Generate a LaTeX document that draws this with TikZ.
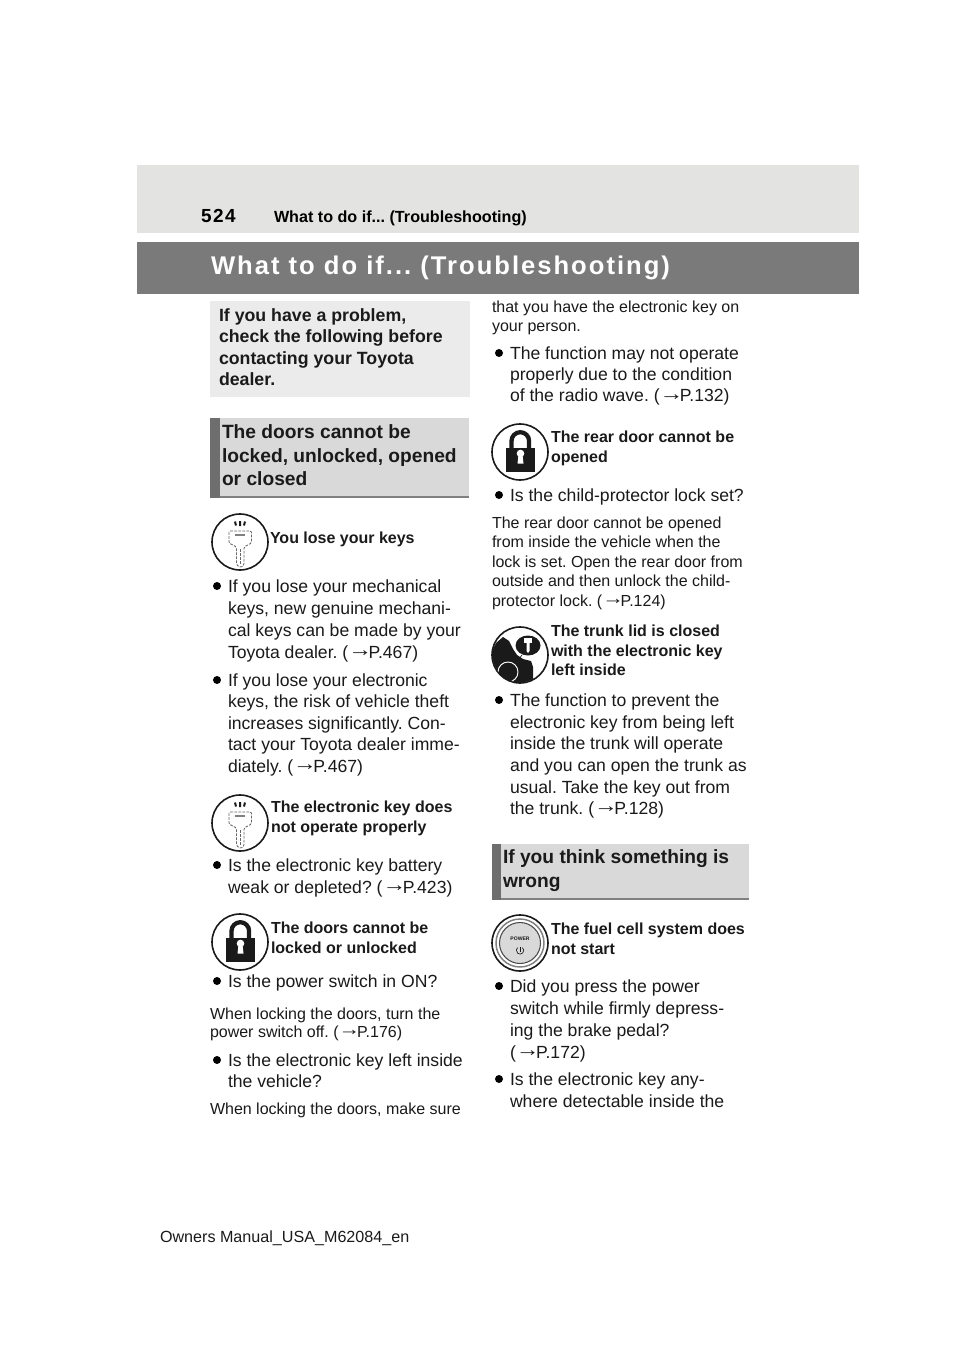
\documentclass[tikz,border=0pt]{standalone}
\usepackage{fontspec}
\setmainfont{Liberation Sans}
\definecolor{hdr}{HTML}{E3E3E1}
\definecolor{band}{HTML}{7A7A7A}
\definecolor{boxa}{HTML}{EBEBEB}
\definecolor{boxb}{HTML}{D9D9D9}
\definecolor{barc}{HTML}{6E6E6E}
\definecolor{ink}{HTML}{1A1A1A}
\newcommand\fs[1]{\fontsize{#1}{#1}\selectfont\frenchspacing}
\newcommand\ar{\raisebox{0.1em}{\scalebox{1.35}[1.15]{→}}\kern-0.2em}
\tikzset{
 x=0.75pt,y=-0.75pt,
 tx/.style={inner sep=0pt,outer sep=0pt,anchor=base west,text=ink},
 bodytx/.style={tx,font=\fs{13.2pt}},
 smalltx/.style={tx,font=\fs{12pt}},
 captx/.style={tx,font=\fs{12pt}\bfseries},
 leadtx/.style={tx,font=\fs{13.3pt}\bfseries},
 headtx/.style={tx,font=\fs{14.4pt}\bfseries},
 ringnode/.style={circle,draw=ink,line width=1.2pt,minimum size=42pt,inner sep=0pt,fill=white},
 bul/.style={circle,fill=black,minimum size=6pt,inner sep=0pt},
 keyline/.style={draw=gray!80!black,line width=0.65pt,dash pattern=on 2pt off 1pt},
}
\newcount\tn
\newcommand\tl[4]{\global\advance\tn by 1 \node[#1] (t\the\tn) at (#2,#3) {#4};}
\newcommand\keyicon[3]{%
 \node[ringnode] (#1) at (#2,#3) {};
 \begin{scope}[shift={(#2,#3)}]
 \draw[keyline,rounded corners=1pt] (-11,-11) -- (11.5,-11) -- (11.5,1) -- (4,5) -- (4,23) -- (1,25.5) -- (-3.5,23) -- (-3.5,5) -- (-11,1) -- cycle;
 \draw[keyline] (0,7) -- (0,22);
 \draw[gray,line width=1.1pt] (-5,-7) -- (5,-7);
 \draw[ink,line width=1.5pt] (-5,-20.5) -- (-4,-16.5) (0,-21) -- (0,-16) (5,-20.5) -- (4,-16.5);
 \end{scope}}
\newcommand\lockicon[3]{%
 \node[ringnode] (#1) at (#2,#3) {};
 \begin{scope}[shift={(#2,#3)}]
 \draw[ink,line width=3.2pt] (-8.5,-3) -- (-8.5,-11) arc[start angle=180,end angle=360,radius=8.8] -- (9.1,-3);
 \fill[ink] (-14,-4) rectangle (15,20);
 \fill[white] (0.5,1.5) circle[radius=3.8];
 \fill[white] (-1.5,3) -- (2.5,3) -- (3.5,11.5) -- (-2.5,11.5) -- cycle;
 \end{scope}}
\begin{document}
\begin{tikzpicture}
\useasboundingbox (0,0) rectangle (960,1358);
\fill[white] (0,0) rectangle (960,1358);
% header
\fill[hdr] (137,165) rectangle (859,233);
\fill[band] (137,242) rectangle (859,294);
\tl{tx,font=\fs{14.2pt}\bfseries,text=black}{201}{223}{\addfontfeature{LetterSpace=8}524}
\tl{tx,font=\fs{12.1pt}\bfseries,text=black}{274}{223}{What to do if... (Troubleshooting)}
\tl{tx,font=\fs{19.2pt}\bfseries,text=white}{211}{275}{\addfontfeature{LetterSpace=7.8}What to do if... (Troubleshooting)}
% boxes
\fill[boxa] (210,301) rectangle (470,397);
\fill[boxb] (210,418) rectangle (469,498);
\fill[barc] (210,418) rectangle (220,498);
\draw[gray,line width=1.1pt] (220,497) -- (469,497);
\fill[boxb] (492,844) rectangle (749,900);
\fill[barc] (492,844) rectangle (501,900);
\draw[gray,line width=1.1pt] (501,899) -- (749,899);
\tl{leadtx}{219}{322}{If you have a problem,}
\tl{leadtx}{219}{343}{check the following before}
\tl{leadtx}{219}{364}{contacting your Toyota}
\tl{leadtx}{219}{386}{dealer.}
\tl{headtx}{222}{438}{The doors cannot be}
\tl{headtx}{222}{462}{locked, unlocked, opened}
\tl{headtx}{222}{485}{or closed}
% left col
\keyicon{i1}{240}{542}
\tl{captx}{270}{543}{You lose your keys}
\node[bul] (b1) at (217,586) {};
\tl{bodytx}{228}{592}{If you lose your mechanical}
\tl{bodytx}{228}{614}{keys, new genuine mechani-}
\tl{bodytx}{228}{636}{cal keys can be made by your}
\tl{bodytx}{228}{658}{Toyota dealer. (\ar P.467)}
\node[bul] (b2) at (217,680) {};
\tl{bodytx}{228}{686}{If you lose your electronic}
\tl{bodytx}{228}{707}{keys, the risk of vehicle theft}
\tl{bodytx}{228}{729}{increases significantly. Con-}
\tl{bodytx}{228}{750}{tact your Toyota dealer imme-}
\tl{bodytx}{228}{772}{diately. (\ar P.467)}
\keyicon{i2}{240}{823}
\tl{captx}{271}{812}{The electronic key does}
\tl{captx}{271}{832}{not operate properly}
\node[bul] (b3) at (217,865) {};
\tl{bodytx}{228}{871}{Is the electronic key battery}
\tl{bodytx}{228}{893}{weak or depleted? (\ar P.423)}
\lockicon{i3}{240}{942}
\tl{captx}{271}{933}{The doors cannot be}
\tl{captx}{271}{953}{locked or unlocked}
\node[bul] (b4) at (217,981) {};
\tl{bodytx}{228}{987}{Is the power switch in ON?}
\tl{smalltx}{210}{1019}{When locking the doors, turn the}
\tl{smalltx}{210}{1037}{power switch off. (\ar P.176)}
\node[bul] (b5) at (217,1060) {};
\tl{bodytx}{228}{1066}{Is the electronic key left inside}
\tl{bodytx}{228}{1087}{the vehicle?}
\tl{smalltx}{210}{1114}{When locking the doors, make sure}
% right col
\tl{smalltx}{492}{313}{that you have the electronic key on}
\tl{smalltx}{492}{332}{your person.}
\node[bul] (b6) at (499,353) {};
\tl{bodytx}{510}{359}{The function may not operate}
\tl{bodytx}{510}{381}{properly due to the condition}
\tl{bodytx}{510}{402}{of the radio wave. (\ar P.132)}
\lockicon{i4}{520}{452}
\tl{captx}{551}{442}{The rear door cannot be}
\tl{captx}{551}{462}{opened}
\node[bul] (b7) at (499,495) {};
\tl{bodytx}{510}{501}{Is the child-protector lock set?}
\tl{smalltx}{492}{528}{The rear door cannot be opened}
\tl{smalltx}{492}{547}{from inside the vehicle when the}
\tl{smalltx}{492}{567}{lock is set. Open the rear door from}
\tl{smalltx}{492}{586}{outside and then unlock the child-}
\tl{smalltx}{492}{606}{protector lock. (\ar P.124)}
\node[ringnode] (i5) at (520,655) {};
\begin{scope}[shift={(520,655)}]
 \clip (0,0) circle[radius=27.4];
 \fill[ink] (-28,20) -- (-28,-4) -- (-24,-12) -- (-17,-18) -- (-11,-14) -- (-7,-6) -- (-3,0) -- (3,4) -- (11,6) -- (13,12) -- (13,28) -- (-28,28) -- cycle;
 \filldraw[fill=ink,draw=white,line width=0.7pt] (-12,17) circle[radius=10];
 \fill[ink] (8,-9.5) ellipse[x radius=12.5,y radius=10];
 \draw[ink,line width=0.5pt] (2,0) -- (-1,4);
 \fill[white] (4,-17) rectangle (12,-12);
 \fill[white] (6.5,-12) -- (9.5,-12) -- (9.5,-4) -- (8,-2) -- (6.5,-4) -- cycle;
\end{scope}
\tl{captx}{551}{636}{The trunk lid is closed}
\tl{captx}{551}{656}{with the electronic key}
\tl{captx}{551}{675}{left inside}
\node[bul] (b8) at (499,700) {};
\tl{bodytx}{510}{706}{The function to prevent the}
\tl{bodytx}{510}{728}{electronic key from being left}
\tl{bodytx}{510}{749}{inside the trunk will operate}
\tl{bodytx}{510}{771}{and you can open the trunk as}
\tl{bodytx}{510}{793}{usual. Take the key out from}
\tl{bodytx}{510}{814}{the trunk. (\ar P.128)}
\tl{headtx}{503}{863}{If you think something is}
\tl{headtx}{503}{887}{wrong}
\node[ringnode] (i6) at (520,943) {};
\begin{scope}[shift={(520,943)}]
 \draw[gray,line width=1.1pt] (0,0) circle[radius=24];
 \filldraw[fill=gray!30,draw=gray!60!black,line width=0.8pt] (0,0) circle[radius=20.5];
 \draw[ink,line width=0.5pt] (2.4,4.6) arc[start angle=-50,end angle=230,radius=3.7];
 \draw[ink,line width=0.5pt] (0,3.5) -- (0,8.5);
\end{scope}
\node[inner sep=0pt,font=\fs{3.8pt}\bfseries,text=ink] (pw) at (520,939) {POWER};
\tl{captx}{551}{934}{The fuel cell system does}
\tl{captx}{551}{954}{not start}
\node[bul] (b9) at (499,986) {};
\tl{bodytx}{510}{992}{Did you press the power}
\tl{bodytx}{510}{1014}{switch while firmly depress-}
\tl{bodytx}{510}{1036}{ing the brake pedal?}
\tl{bodytx}{510}{1058}{(\ar P.172)}
\node[bul] (b10) at (499,1079) {};
\tl{bodytx}{510}{1085}{Is the electronic key any-}
\tl{bodytx}{510}{1107}{where detectable inside the}
% footer
\tl{tx,font=\fs{12.1pt}}{160}{1242}{Owners Manual\_USA\_M62084\_en}
\end{tikzpicture}
\end{document}
